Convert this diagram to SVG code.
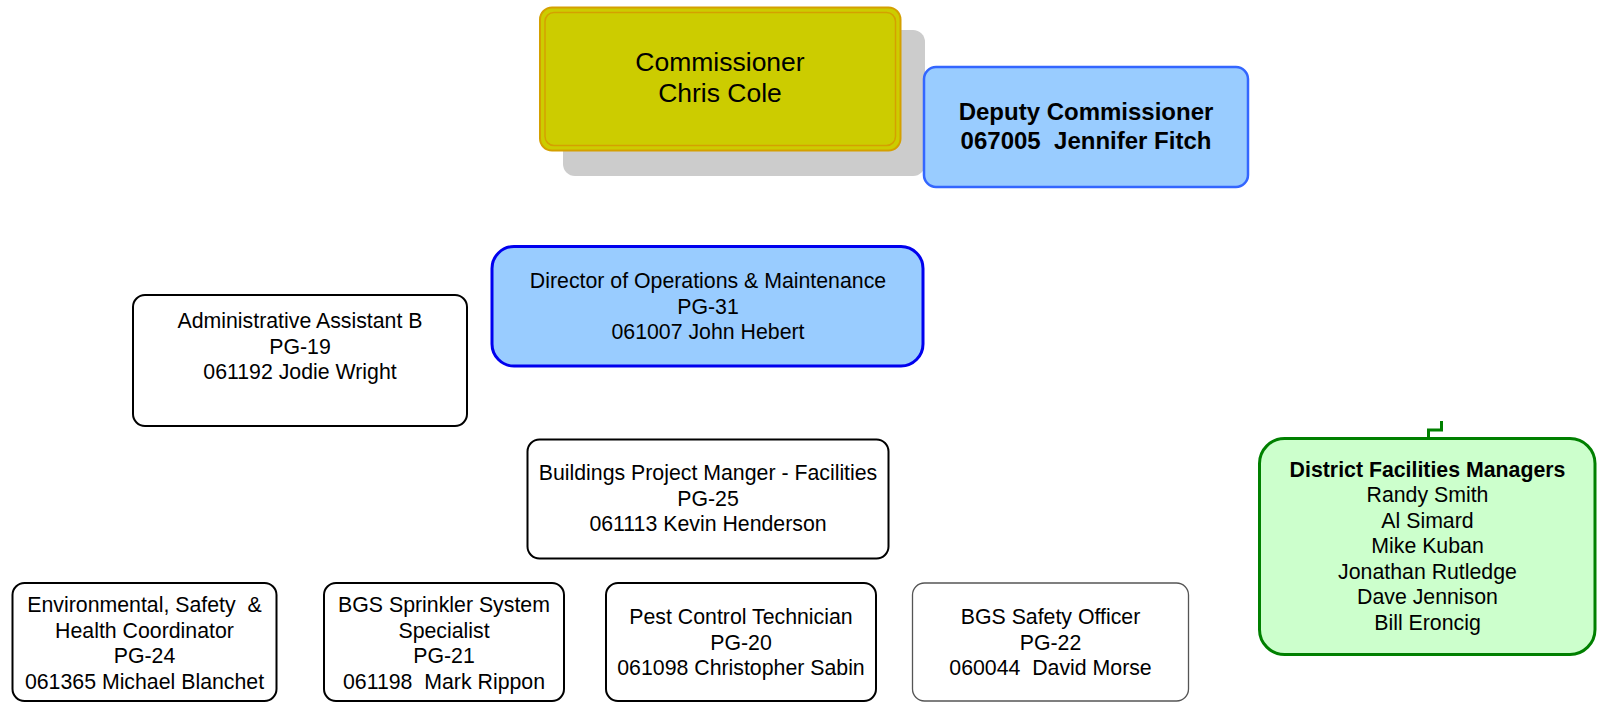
<svg xmlns="http://www.w3.org/2000/svg" width="1597" height="702" viewBox="0 0 1597 702">
<style>
text{font-family:"Liberation Sans",Arial,sans-serif;font-size:21.3px;fill:#000;text-anchor:middle;white-space:pre}
.b{font-weight:bold}
.box{fill:#fff;stroke:#000;stroke-width:2}
.grey{fill:#fff;stroke:#555;stroke-width:1.3}
.conn{fill:none;stroke:#008000;stroke-width:3}
</style>
<rect width="1597" height="702" fill="#fff"/>
<g id="commissioner">
<rect x="563" y="30" width="362" height="146" rx="12" fill="#cccccc"/>
<rect x="540" y="7.5" width="360.5" height="143" rx="12" fill="#cccc00" stroke="#d4a000" stroke-width="2"/>
<rect x="545" y="12.5" width="350.5" height="133" rx="9" fill="none" stroke="#d4a000" stroke-width="1.5"/>
<text x="720" y="71" style="font-size:26.5px">Commissioner</text>
<text x="720" y="102" style="font-size:26.5px">Chris Cole</text>
</g>
<g id="deputy">
<rect x="924" y="67" width="324" height="120" rx="12" fill="#99ccff" stroke="#3366ff" stroke-width="2.5"/>
<text class="b" x="1086" y="119.5" style="font-size:24px">Deputy Commissioner</text>
<text class="b" x="1086" y="148.5" style="font-size:24px" xml:space="preserve">067005  Jennifer Fitch</text>
</g>
<g id="director">
<rect x="492" y="246.5" width="431" height="119.5" rx="22" fill="#99ccff" stroke="#0000ee" stroke-width="3"/>
<text x="708" y="288">Director of Operations &amp; Maintenance</text>
<text x="708" y="313.5">PG-31</text>
<text x="708" y="339">061007 John Hebert</text>
</g>
<g id="admin">
<rect class="box" x="133" y="295" width="334" height="131" rx="12"/>
<text x="300" y="328">Administrative Assistant B</text>
<text x="300" y="353.5">PG-19</text>
<text x="300" y="379">061192 Jodie Wright</text>
</g>
<g id="buildings">
<rect class="box" x="527.5" y="439.5" width="361" height="119" rx="12"/>
<text x="708" y="480">Buildings Project Manger - Facilities</text>
<text x="708" y="505.5">PG-25</text>
<text x="708" y="531">061113 Kevin Henderson</text>
</g>
<g id="env">
<rect class="box" x="12.5" y="583" width="264" height="118" rx="12"/>
<text x="144.5" y="612" xml:space="preserve">Environmental, Safety  &amp;</text>
<text x="144.5" y="637.5">Health Coordinator</text>
<text x="144.5" y="663">PG-24</text>
<text x="144.5" y="688.5">061365 Michael Blanchet</text>
</g>
<g id="sprinkler">
<rect class="box" x="324" y="583" width="240" height="118" rx="12"/>
<text x="444" y="612">BGS Sprinkler System</text>
<text x="444" y="637.5">Specialist</text>
<text x="444" y="663">PG-21</text>
<text x="444" y="688.5" xml:space="preserve">061198  Mark Rippon</text>
</g>
<g id="pest">
<rect class="box" x="606" y="583" width="270" height="118" rx="12"/>
<text x="741" y="624">Pest Control Technician</text>
<text x="741" y="649.5">PG-20</text>
<text x="741" y="675">061098 Christopher Sabin</text>
</g>
<g id="safety">
<rect class="grey" x="912.5" y="583" width="276" height="118" rx="12"/>
<text x="1050.5" y="624">BGS Safety Officer</text>
<text x="1050.5" y="649.5">PG-22</text>
<text x="1050.5" y="675" xml:space="preserve">060044  David Morse</text>
</g>
<g id="district">
<rect x="1259.5" y="438.5" width="335.5" height="216" rx="25" fill="#ccffcc" stroke="#008000" stroke-width="3"/>
<text class="b" x="1427.5" y="476.5">District Facilities Managers</text>
<text x="1427.5" y="502">Randy Smith</text>
<text x="1427.5" y="527.5">Al Simard</text>
<text x="1427.5" y="553">Mike Kuban</text>
<text x="1427.5" y="578.5">Jonathan Rutledge</text>
<text x="1427.5" y="604">Dave Jennison</text>
<text x="1427.5" y="629.5">Bill Eroncig</text>
</g>
<g id="connectors">
<path class="conn" d="M1428.5 438 V430 H1441.5 V421"/>
</g>
</svg>
